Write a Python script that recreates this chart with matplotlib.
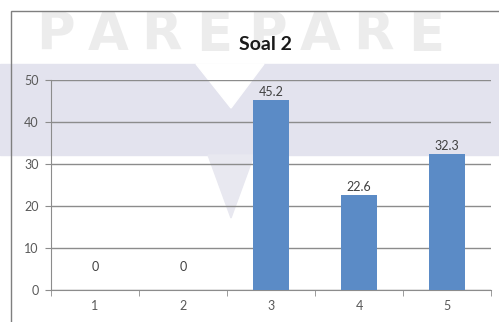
import matplotlib
matplotlib.use("Agg")
import matplotlib.pyplot as plt
from matplotlib.patches import Rectangle, Polygon
import numpy as np

INK = "#404040"
GREY = "#595959"
GRIDC = "#8C8C8C"
BAR = "#5B8BC6"
BAND = "#E3E3EE"

plt.rcParams["font.family"] = ["Lato", "DejaVu Sans"]

categories = ["1", "2", "3", "4", "5"]
values = [0, 0, 45.2, 22.6, 32.3]
labels = ["0", "0", "45.2", "22.6", "32.3"]
yticks = [0, 10, 20, 30, 40, 50]
watermark = "PAREPARE"

W, H = 499, 322
fig = plt.figure(figsize=(W / 100, H / 100), dpi=100)


def fx(px):
    return px / W


def fy(py):
    return 1 - py / H


# scanned-page background: lavender band, watermark and chart frame
fig.patches.append(Rectangle((0, fy(155)), 1, fy(64) - fy(155), transform=fig.transFigure,
                             color=BAND, zorder=-3))
fig.patches.append(Polygon([(fx(196), fy(64)), (fx(264), fy(64)), (fx(231), fy(108))],
                           closed=True, transform=fig.transFigure, color="white", zorder=-2))
fig.patches.append(Polygon([(fx(208), fy(155)), (fx(254), fy(155)), (fx(231), fy(218))],
                           closed=True, transform=fig.transFigure, color="#E8E8F0", zorder=-2))
for i, ch in enumerate(watermark):
    fig.text(fx(55 + i * 53), fy(35), ch, ha="center", va="center", fontsize=38,
             fontweight="bold", family="DejaVu Sans", color="#ECECEC", zorder=-2)
fig.patches.append(Rectangle((fx(11), -0.1), 1.2, fy(11) + 0.1, transform=fig.transFigure,
                             fill=False, edgecolor="#7F7F7F", linewidth=1.0, zorder=-1))

ax = fig.add_axes([fx(51), fy(290), fx(491) - fx(51), fy(80) - fy(290)])
ax.set_zorder(2)
ax.patch.set_alpha(0)

x = np.arange(len(categories))
ax.bar(x, values, width=0.4, color=BAR, zorder=3)
for xi, v, lab in zip(x, values, labels):
    off = 4.0 if v == 0 else 0.6
    ax.text(xi, v + off, lab, ha="center", va="bottom", fontsize=9, color=INK, zorder=4)

ax.set_xlim(-0.5, len(categories) - 0.5)
ax.set_ylim(0, 50)
ax.set_yticks(yticks)
ax.set_xticks(x)
ax.set_xticklabels(categories)
ax.set_xticks(np.arange(-0.5, len(categories)), minor=True)
ax.tick_params(axis="x", which="major", length=0, pad=7, labelsize=9, labelcolor=GREY)
ax.tick_params(axis="x", which="minor", length=4, color=GRIDC, direction="out")
ax.tick_params(axis="y", length=4, color=GRIDC, pad=5, labelsize=9, labelcolor=GREY)
ax.grid(axis="y", color=GRIDC, linewidth=1.0, zorder=1)
ax.set_axisbelow(True)
for s in ["top", "right"]:
    ax.spines[s].set_visible(False)
ax.spines["left"].set_color(GRIDC)
ax.spines["bottom"].set_color(GRIDC)

fig.text(fx(265), fy(45), "Soal 2", ha="center", va="center", fontsize=14,
         fontweight="bold", color="#1A1A1A", zorder=3)

fig.savefig("out.png", dpi=100)
